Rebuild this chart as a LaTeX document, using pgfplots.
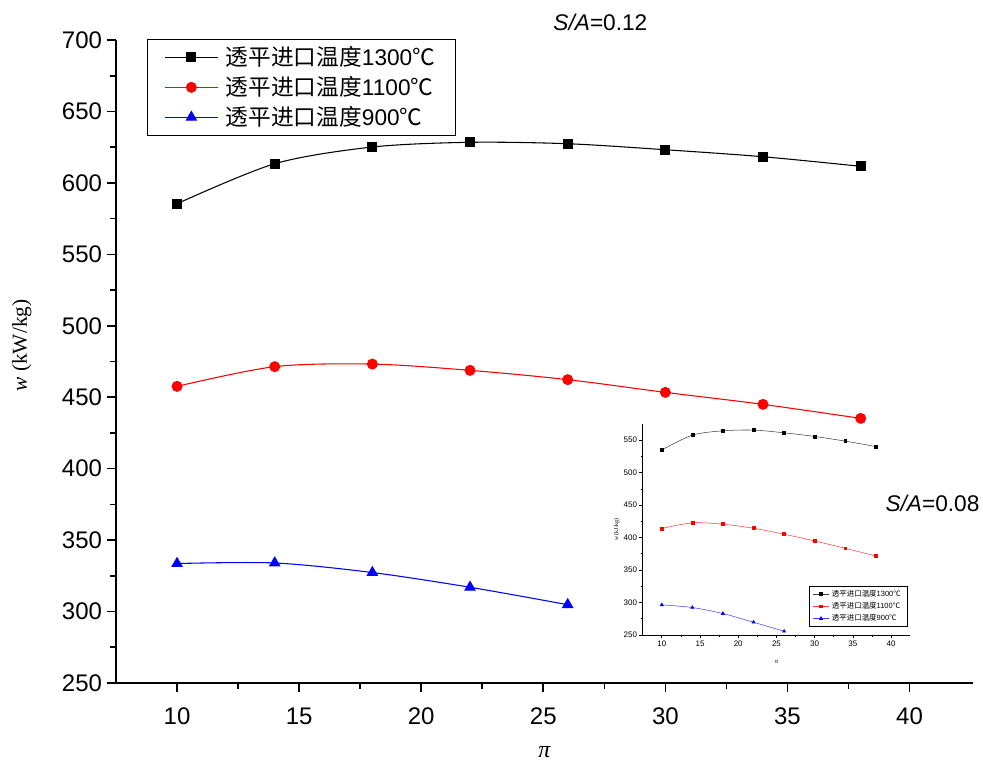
\documentclass[border=0pt]{standalone}
\usepackage{fontspec}
\setmainfont{Liberation Sans}
\newfontfamily\timesf{Liberation Serif}
\newfontfamily\cjk{Noto Sans CJK SC}
\usepackage{pgfplots}
\pgfplotsset{compat=1.18}

\begin{document}
\begin{tikzpicture}
\useasboundingbox (-87pt,-63pt) rectangle (650.25pt,512.25pt);
\begin{axis}[
  at={(0pt,0pt)}, anchor=south west,
  scale only axis, width=642.75pt, height=482.25pt,
  xmin=7.5, xmax=42.6, ymin=250, ymax=700,
  axis lines*=left,
  axis line style={line width=1.2pt},
  xtick={10,15,...,40}, ytick={250,300,...,700},
  minor tick num=1,
  tick align=outside,
  major tick length=7pt, minor tick length=4.5pt,
  every tick/.style={line width=1.2pt, black},
  /pgf/number format/assume math mode=true,
  tick label style={font=\fontsize{18}{20}\selectfont},
  xticklabel style={yshift=-8pt},
  clip=false,
  xlabel={\timesf\itshape\fontsize{18}{20}\selectfont π},
  xlabel style={at={(axis description cs:0.5,-0.108)}, anchor=center},
  ylabel={\timesf\fontsize{16}{18}\selectfont\textit{w} (kW/kg)},
  ylabel style={at={(axis description cs:-0.11,0.525)}, anchor=center},
  legend style={at={(rel axis cs:0.0362,1.0016)}, anchor=north west, draw=black, line width=0.75pt,
    font=\fontsize{17}{20}\selectfont, cells={anchor=west}, inner xsep=13pt, inner ysep=3.5pt, row sep=2.6pt},
  legend image code/.code={\draw[#1, mark repeat=2, mark phase=2] plot coordinates {(0pt,0pt) (19.5pt,0pt) (39pt,0pt)}; \path (43pt,0pt);},
]
\addplot[black, line width=0.8pt, smooth, mark=square*, mark size=3.4pt, mark options={solid}]
  coordinates {(10,585.4) (14,613.4) (18,625.1) (22,628.4) (26,627.4) (30,623.2) (34,618.3) (38,611.6)};
\addlegendentry{{\cjk 透平进口温度}1300{\cjk ℃}}
\addplot[red, line width=0.8pt, smooth, mark=*, mark size=3.7pt, mark options={solid}]
  coordinates {(10,457.6) (14,471.4) (18,473.2) (22,468.8) (26,462.3) (30,453.4) (34,445.0) (38,435.2)};
\addlegendentry{{\cjk 透平进口温度}1100{\cjk ℃}}
\addplot[blue, line width=0.8pt, smooth, mark=triangle*, mark size=4.3pt, mark options={solid}]
  coordinates {(10,333.6) (14,334.0) (18,327.3) (22,317.0) (26,304.8)};
\addlegendentry{{\cjk 透平进口温度}900{\cjk ℃}}
\node[font=\fontsize{17}{20}\selectfont, anchor=center] at (axis cs:27.34,712.6) {\textit{S/A}=0.12};
\node[font=\fontsize{17}{20}\selectfont, anchor=center] at (axis cs:40.94,376) {\textit{S/A}=0.08};
\end{axis}

\begin{axis}[
  at={(395pt,36pt)}, anchor=south west,
  scale only axis, width=200.7pt, height=158.3pt,
  xmin=7.5, xmax=42.5, ymin=250, ymax=575,
  axis lines*=left,
  axis line style={line width=0.5pt},
  xtick={10,15,...,40}, ytick={250,300,...,550},
  minor tick num=1,
  tick align=outside,
  major tick length=2.5pt, minor tick length=1.5pt,
  every tick/.style={line width=0.5pt, black},
  /pgf/number format/assume math mode=true,
  tick label style={font=\fontsize{6}{7}\selectfont, inner sep=1.5pt},
  xlabel={\timesf\itshape\fontsize{5}{6}\selectfont π},
  xlabel style={at={(axis description cs:0.5,-0.128)}, anchor=center},
  ylabel={\timesf\fontsize{4.5}{5}\selectfont\textit{w} (kJ/kg)},
  ylabel style={at={(axis description cs:-0.097,0.5)}, anchor=center},
  legend style={at={(rel axis cs:0.988,0.038)}, anchor=south east, draw=black, line width=0.4pt,
    font=\fontsize{5.6}{6.5}\selectfont, cells={anchor=west}, inner xsep=2.5pt, inner ysep=1pt, row sep=-1pt},
  legend image code/.code={\draw[#1, mark repeat=2, mark phase=2] plot coordinates {(0pt,0pt) (6pt,0pt) (12pt,0pt)};},
]
\addplot[black!75, line width=0.4pt, smooth, mark=square*, mark size=1.1pt, mark options={solid, black}]
  coordinates {(10,535.0) (14,557.7) (18,564.4) (22,565.5) (26,561.3) (30,555.7) (34,548.5) (38,540.2)};
\addlegendentry{{\cjk 透平进口温度}1300{\cjk ℃}}
\addplot[red!75, line width=0.4pt, smooth, mark=square*, mark size=1.1pt, mark options={solid, red}]
  coordinates {(10,414.0) (14,422.7) (18,420.6) (22,414.4) (26,405.2) (30,394.8) (34,383.5) (38,371.6)};
\addlegendentry{{\cjk 透平进口温度}1100{\cjk ℃}}
\addplot[blue!75, line width=0.4pt, smooth, mark=triangle*, mark size=1.4pt, mark options={solid, blue}]
  coordinates {(10,296.4) (14,292.3) (18,283.0) (22,269.6) (26,255.7)};
\addlegendentry{{\cjk 透平进口温度}900{\cjk ℃}}
\end{axis}
\end{tikzpicture}
\end{document}
